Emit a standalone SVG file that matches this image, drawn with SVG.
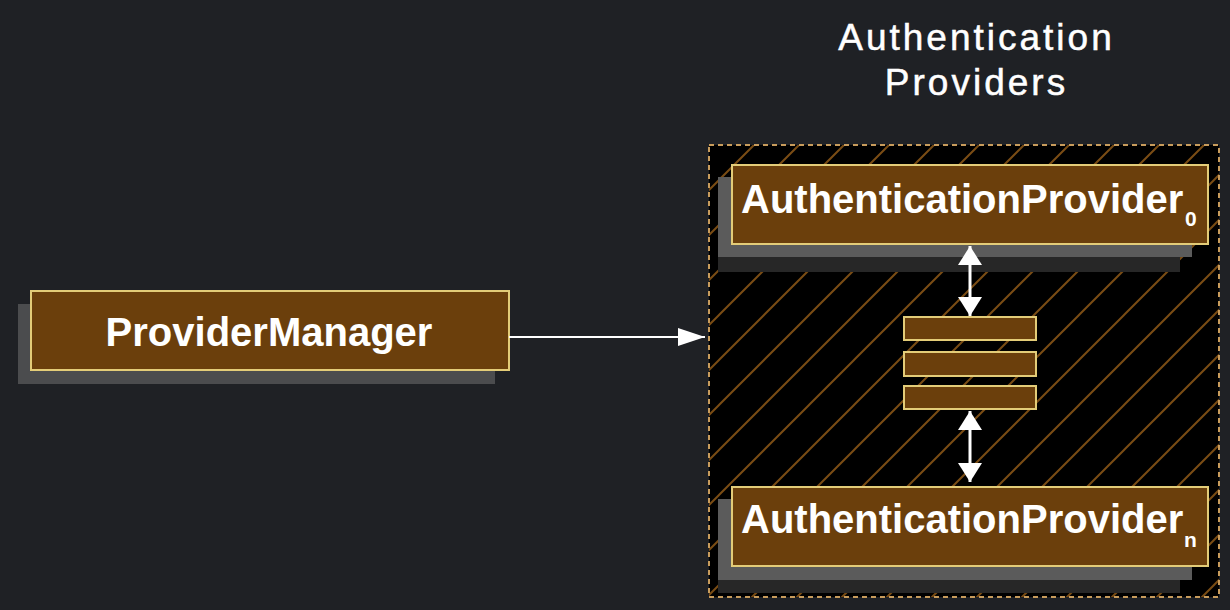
<svg xmlns="http://www.w3.org/2000/svg" width="1230" height="610" viewBox="0 0 1230 610">
  <defs>
    <pattern id="hatch" patternUnits="userSpaceOnUse" x="-1" y="0" width="45" height="45">
      <path d="M0,45 L45,0 M-12,12 L12,-12 M33,57 L57,33" stroke="#7a4c14" stroke-width="2"/>
    </pattern>
    <marker id="head" viewBox="0 0 27 18" refX="27" refY="9" markerWidth="27" markerHeight="18" markerUnits="userSpaceOnUse" orient="auto-start-reverse">
      <path d="M0,0 L27,9 L0,18 Z" fill="#ffffff"/>
    </marker>
    <marker id="vhead" viewBox="0 0 19 24" refX="19" refY="12" markerWidth="19" markerHeight="24" markerUnits="userSpaceOnUse" orient="auto-start-reverse">
      <path d="M0,0 L19,12 L0,24 Z" fill="#ffffff"/>
    </marker>
  </defs>
  <style>
    .box { fill: #6b3f0c; stroke: #e3cc78; stroke-width: 2; }
    .bar { fill: #6b3f0c; stroke: #e3cc78; stroke-width: 2; }
    .shadow { fill: #5b5b5b; }
    .shadow-dark { fill: #272727; }
    .label { font-family: "Liberation Sans", Arial, sans-serif; font-weight: bold; font-size: 40px; fill: #ffffff; }
    .sub { font-family: "Liberation Sans", Arial, sans-serif; font-weight: bold; font-size: 21px; fill: #ffffff; }
    .title { font-family: "Liberation Sans", Arial, sans-serif; font-size: 37px; letter-spacing: 3px; fill: #ffffff; stroke: #ffffff; stroke-width: 0.5; text-anchor: middle; }
  </style>
  <rect x="0" y="0" width="1230" height="610" fill="#1f2125"/>

  <g id="title">
    <text class="title" x="976.5" y="50">Authentication</text>
    <text class="title" x="976.5" y="95">Providers</text>
  </g>

  <g id="container">
    <rect x="709" y="145" width="510" height="452" fill="#000000"/>
    <rect x="709" y="145" width="510" height="452" fill="url(#hatch)"/>
    <rect x="709" y="145" width="510" height="452" fill="none" stroke="#c89c5c" stroke-width="2" stroke-dasharray="5,4"/>
  </g>

  <g id="provider-manager">
    <rect x="18" y="304" width="477" height="80" fill="#4b4c4e"/>
    <rect class="box" x="31" y="291" width="478" height="79"/>
    <text class="label" x="269" y="346" text-anchor="middle">ProviderManager</text>
  </g>

  <g id="auth-provider-0">
    <rect class="shadow-dark" x="718" y="190" width="462" height="82"/>
    <rect class="shadow" x="718" y="177" width="474" height="80"/>
    <rect class="box" x="732" y="165" width="476" height="79"/>
    <text class="label" x="741" y="213">AuthenticationProvider</text>
    <text class="sub" x="1185" y="226">0</text>
  </g>

  <g id="provider-stack">
    <rect class="bar" x="904" y="317" width="132" height="23"/>
    <rect class="bar" x="904" y="352" width="132" height="24"/>
    <rect class="bar" x="904" y="386" width="132" height="23"/>
  </g>

  <g id="auth-provider-n">
    <rect class="shadow-dark" x="718" y="511" width="462" height="82"/>
    <rect class="shadow" x="718" y="499" width="474" height="81"/>
    <rect class="box" x="732" y="487" width="476" height="79"/>
    <text class="label" x="741" y="533">AuthenticationProvider</text>
    <text class="sub" x="1184" y="547">n</text>
  </g>

  <g id="connectors" fill="none" stroke="#ffffff">
    <line x1="509" y1="337" x2="705" y2="337" stroke-width="2" marker-end="url(#head)"/>
    <line x1="970" y1="246" x2="970" y2="316" stroke-width="3" marker-start="url(#vhead)" marker-end="url(#vhead)"/>
    <line x1="970" y1="411" x2="970" y2="482" stroke-width="3" marker-start="url(#vhead)" marker-end="url(#vhead)"/>
  </g>
</svg>
